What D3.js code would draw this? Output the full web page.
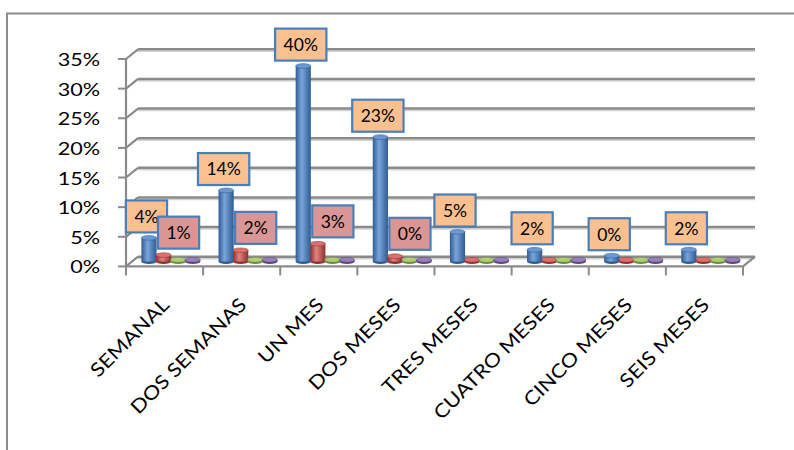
<!DOCTYPE html>
<html>
<head>
<meta charset="utf-8">
<script src="https://cdn.jsdelivr.net/npm/d3@7/dist/d3.min.js"></script>
<style>
  html, body { margin: 0; padding: 0; background: #fff; }
  svg { display: block; }
  text { font-family: Lato, "Open Sans", sans-serif; fill: #000; }
</style>
</head>
<body>
<svg id="chart" width="794" height="450"></svg>
<script>
// ---- data ----
const categories = ["SEMANAL", "DOS SEMANAS", "UN MES", "DOS MESES", "TRES MESES", "CUATRO MESES", "CINCO MESES", "SEIS MESES"];
const seriesNames = ["Serie 1", "Serie 2", "Serie 3", "Serie 4"];
const blueValues   = [0.04, 0.12, 0.33, 0.21, 0.05, 0.02, 0.01, 0.02];
const redValues    = [0.011, 0.019, 0.03, 0.009, 0, 0, 0, 0];
const greenValues  = [0, 0, 0, 0, 0, 0, 0, 0];
const purpleValues = [0, 0, 0, 0, 0, 0, 0, 0];
const blueLabels = ["4%", "14%", "40%", "23%", "5%", "2%", "0%", "2%"];
const redLabels  = ["1%", "2%", "3%", "0%", null, null, null, null];
const yTicks = [0, 0.05, 0.10, 0.15, 0.20, 0.25, 0.30, 0.35];

// ---- layout ----
const svg = d3.select("#chart");
const depthX = 12, depthY = -9.7;
const x = d3.scaleBand().domain(categories).range([126, 743]).paddingInner(0).paddingOuter(0);
const y = d3.scaleLinear().domain([0, 0.35]).range([266.4, 59]);
const bw = x.bandwidth();
const s = d3.scaleBand().domain(seriesNames).range([bw * 0.122, bw * 0.878]);
const pct = d3.format(".0%");

const colors = [
  {dark: "#2d5b92", light: "#7aa5da", top: "#6b98d2"},
  {dark: "#8c3230", light: "#e28380", top: "#d9716e"},
  {dark: "#6d8a38", light: "#bcd68a", top: "#b0cd78"},
  {dark: "#5a4579", light: "#a58cc4", top: "#9a80bb"}
];
const defs = svg.append("defs");
colors.forEach((c, i) => {
  const g = defs.append("linearGradient").attr("id", "cyl" + i)
    .attr("x1", "0%").attr("x2", "100%").attr("y1", "0%").attr("y2", "0%");
  g.append("stop").attr("offset", "0%").attr("stop-color", c.dark);
  g.append("stop").attr("offset", "40%").attr("stop-color", c.light);
  g.append("stop").attr("offset", "100%").attr("stop-color", c.dark);
});

// outer frame
svg.append("path").attr("d", "M7,450 V13.5 H794")
  .attr("fill", "none").attr("stroke", "#8c8c8c").attr("stroke-width", 2);

const grid = svg.append("g");
yTicks.forEach(t => {
  const yb = y(t) + depthY;
  grid.append("line").attr("x1", x.range()[0] + depthX).attr("x2", x.range()[1] + depthX)
    .attr("y1", yb + 2).attr("y2", yb + 2).attr("stroke", "#d2d2d2").attr("stroke-width", 1.6);
  grid.append("line").attr("x1", x.range()[0] + depthX).attr("x2", x.range()[1] + depthX)
    .attr("y1", yb).attr("y2", yb).attr("stroke", "#8a8a8a").attr("stroke-width", 2.4);
  grid.append("line").attr("x1", x.range()[0]).attr("y1", y(t))
    .attr("x2", x.range()[0] + depthX).attr("y2", yb)
    .attr("stroke", "#8a8a8a").attr("stroke-width", 2.2);
  grid.append("line").attr("x1", x.range()[0] - 8).attr("x2", x.range()[0])
    .attr("y1", y(t)).attr("y2", y(t)).attr("stroke", "#8a8a8a").attr("stroke-width", 2);
  grid.append("text").attr("transform", `translate(${x.range()[0] - 26},${y(t) + 7}) scale(1.2,1)`)
    .attr("text-anchor", "end").attr("font-size", 18).text(pct(t));
});
grid.append("line").attr("x1", x.range()[0]).attr("x2", x.range()[0])
  .attr("y1", y(0)).attr("y2", y(0.35)).attr("stroke", "#8a8a8a").attr("stroke-width", 2.2);
grid.append("path")
  .attr("d", `M${x.range()[0]},${y(0)} H${x.range()[1]} L${x.range()[1] + depthX},${y(0) + depthY}`)
  .attr("fill", "none").attr("stroke", "#8a8a8a").attr("stroke-width", 2.2);
d3.range(categories.length + 1).forEach(i => {
  const xt = x.range()[0] + i * bw;
  grid.append("line").attr("x1", xt).attr("x2", xt).attr("y1", y(0)).attr("y2", y(0) + 9)
    .attr("stroke", "#8a8a8a").attr("stroke-width", 2);
});

// category labels
categories.forEach(c => {
  const ex = x(c) + bw / 2 + 6, ey = 306;
  svg.append("text").attr("transform", `translate(${ex},${ey}) rotate(-45) scale(1.15,1)`)
    .attr("text-anchor", "end").attr("font-size", 19).text(c);
});

// bars (cylinders)
const allSeries = [blueValues, redValues, greenValues, purpleValues];
const barsG = svg.append("g");
const ry = 2.4;
const barInfo = allSeries.map(() => []);
categories.forEach((c, ci) => {
  allSeries.forEach((vals, si) => {
    const v = vals[ci];
    const bx = x(c) + depthX / 2 + s(seriesNames[si]);
    const w = s.bandwidth() + 0.6;
    const yBase = y(0) + depthY / 2;
    let yTop = y(v) + depthY / 2;
    if (yBase - yTop < 1.8) yTop = yBase - 1.8;
    const cx = bx + w / 2;
    const g = barsG.append("g");
    g.append("ellipse").attr("cx", cx).attr("cy", yBase).attr("rx", w / 2).attr("ry", ry)
      .attr("fill", colors[si].dark);
    g.append("rect").attr("x", bx).attr("y", yTop).attr("width", w).attr("height", yBase - yTop)
      .attr("fill", `url(#cyl${si})`);
    g.append("ellipse").attr("cx", cx).attr("cy", yTop).attr("rx", w / 2).attr("ry", ry)
      .attr("fill", colors[si].top).attr("stroke", colors[si].dark).attr("stroke-width", 0.5);
    barInfo[si][ci] = {cx, topEdge: yTop - ry};
  });
});

// data labels
function drawLabel(text, cx, bottom, fill) {
  const g = svg.append("g");
  const t = g.append("text").attr("font-size", 17.5).attr("text-anchor", "middle").text(text);
  const tw = t.node().getComputedTextLength();
  const bwid = tw + 17, bh = 32;
  g.insert("rect", "text").attr("x", cx - bwid / 2).attr("y", bottom - bh)
    .attr("width", bwid).attr("height", bh)
    .attr("fill", fill).attr("stroke", "#4a7ebb").attr("stroke-width", 2.2);
  t.attr("x", cx).attr("y", bottom - bh / 2 + 6.3);
}
blueLabels.forEach((l, i) => {
  if (l == null) return;
  const b = barInfo[0][i];
  drawLabel(l, b.cx - 2.5, b.topEdge - 3, "#fac090");
});
redLabels.forEach((l, i) => {
  if (l == null) return;
  const b = barInfo[1][i];
  drawLabel(l, b.cx + 15, b.topEdge - 4, "#d99694");
});
</script>
</body>
</html>
